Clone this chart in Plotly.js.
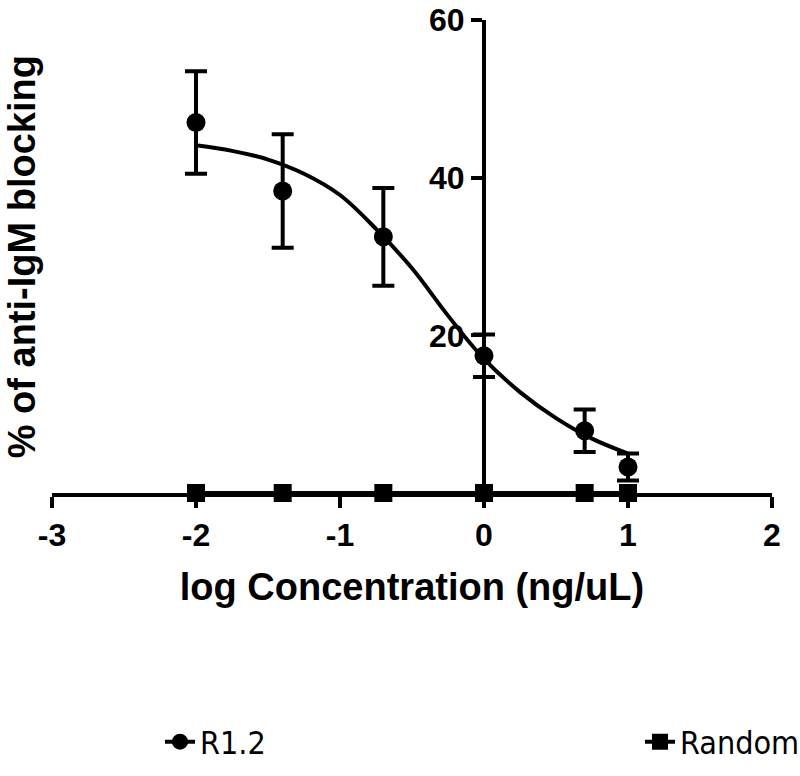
<!DOCTYPE html>
<html>
<head>
<meta charset="utf-8">
<script src="https://cdn.plot.ly/plotly-3.0.1.min.js"></script>
<style>
  html, body { margin: 0; padding: 0; background: #fff; }
  #chart { width: 800px; height: 776px; }
</style>
</head>
<body>
<div id="chart"></div>
<script>
// log concentration (ng/uL) for the measured points
const logConc = [-2, -1.398, -0.699, 0, 0.699, 1];

// R1.2 mean blocking and SEM
const r12Mean = [47.0, 38.3, 32.5, 17.4, 7.9, 3.3];
const r12Err = [6.5, 7.2, 6.2, 2.7, 2.7, 1.7];

// Random peptide: no blocking
const randomMean = [0, 0, 0, 0, 0, 0];

// fitted curve
const fitX = [-2, -1.75, -1.5, -1.25, -1, -0.75, -0.5, -0.25, 0, 0.25, 0.5, 0.75, 1];
const fitY = [44.1, 43.4, 42.3, 40.5, 37.8, 33.5, 28.5, 22.5, 17.0, 12.8, 9.5, 6.9, 5.0];

const xTicks = [-3, -2, -1, 0, 1, 2];
const yTicks = [20, 40, 60];

const FONT = "'Liberation Sans', Arial, sans-serif";
const NARROW = "'DejaVu Sans Condensed', 'Liberation Sans Narrow', sans-serif";
const black = '#000000';

const traces = [
    {
        type: 'scatter',
        mode: 'lines',
        x: fitX,
        y: fitY,
        line: { color: black, width: 4, shape: 'spline', smoothing: 1 },
        showlegend: false,
        hoverinfo: 'skip'
    },
    {
        type: 'scatter',
        mode: 'markers',
        x: logConc,
        y: r12Mean,
        marker: { symbol: 'circle', size: 19, color: black },
        error_y: { type: 'data', array: r12Err, visible: true, color: black, thickness: 4, width: 11 },
        cliponaxis: false,
        showlegend: false
    },
    {
        // legend entry for R1.2 (line + circle)
        type: 'scatter',
        mode: 'lines+markers',
        name: 'R1.2',
        legend: 'legend',
        x: [null],
        y: [null],
        line: { color: black, width: 4 },
        marker: { symbol: 'circle', size: 19, color: black }
    },
    {
        type: 'scatter',
        mode: 'lines+markers',
        name: 'Random',
        legend: 'legend2',
        x: logConc,
        y: randomMean,
        line: { color: black, width: 4 },
        marker: { symbol: 'square', size: 18, color: black },
        cliponaxis: false
    }
];

const legendBase = {
    orientation: 'h',
    xref: 'container',
    yref: 'container',
    y: 0.044,
    xanchor: 'left',
    yanchor: 'middle',
    font: { family: NARROW, size: 32, color: black },
    bgcolor: 'rgba(0,0,0,0)'
};

const layout = {
    width: 800,
    height: 776,
    margin: { l: 52, r: 28, t: 20, b: 283 },
    paper_bgcolor: '#ffffff',
    plot_bgcolor: '#ffffff',
    font: { family: FONT, color: black },
    showlegend: true,
    xaxis: {
        range: [-3, 2],
        tickvals: xTicks,
        ticktext: xTicks.map(String),
        showline: true,
        linewidth: 4,
        linecolor: black,
        ticks: 'outside',
        ticklen: 11,
        tickwidth: 4,
        tickcolor: black,
        showgrid: false,
        zeroline: false,
        tickfont: { family: FONT, size: 32, weight: 'bold', color: black },
        title: {
            text: 'log Concentration (ng/uL)',
            font: { family: FONT, size: 38, weight: 'bold', color: black },
            standoff: 22
        }
    },
    yaxis: {
        range: [0, 60],
        tickvals: yTicks,
        anchor: 'free',
        position: 0.6,
        showline: true,
        linewidth: 4,
        linecolor: black,
        ticks: 'outside',
        ticklen: 11,
        tickwidth: 4,
        tickcolor: black,
        showgrid: false,
        zeroline: false,
        ticklabeloverflow: 'allow',
        tickfont: { family: FONT, size: 32, weight: 'bold', color: black }
    },
    annotations: [
        {
            text: '% of anti-IgM blocking',
            xref: 'paper',
            yref: 'paper',
            x: -0.042,
            y: 0.5,
            xanchor: 'center',
            yanchor: 'middle',
            textangle: -90,
            showarrow: false,
            font: { family: FONT, size: 38, weight: 'bold', color: black }
        }
    ],
    legend: Object.assign({}, legendBase, { x: 0.2 }),
    legend2: Object.assign({}, legendBase, { x: 0.8 })
};

Plotly.newPlot('chart', traces, layout, { displayModeBar: false, staticPlot: true });
</script>
</body>
</html>
